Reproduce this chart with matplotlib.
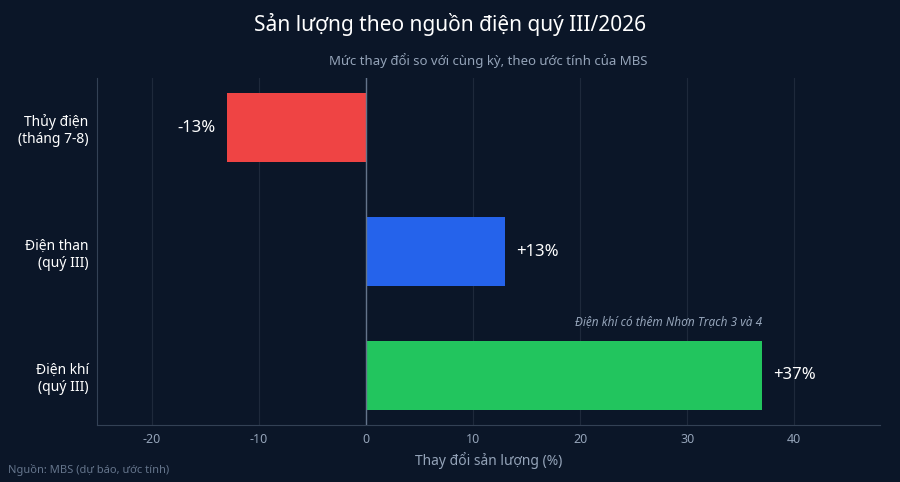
import matplotlib
matplotlib.use("Agg")
import matplotlib.pyplot as plt

plt.rcParams['font.family'] = ['Noto Sans', 'DejaVu Sans']

categories = ["Thủy điện\n(tháng 7-8)", "Điện than\n(quý III)", "Điện khí\n(quý III)"]
values = [-13, 13, 37]
labels = ["-13%", "+13%", "+37%"]
colors = ["#ef4444", "#2563eb", "#22c55e"]
xticks = [-20, -10, 0, 10, 20, 30, 40]

bg = "#0b1628"
fig = plt.figure(figsize=(9, 4.82), dpi=100, facecolor=bg)
ax = fig.add_axes([97/900, 1-425/482, (880-97)/900, (425-78)/482], facecolor=bg)

y = list(range(len(categories)))
ax.barh(y, values, height=0.55, color=colors, zorder=3)
for yi, v, lab in zip(y, values, labels):
    if v < 0:
        ax.text(v - 1, yi, lab, ha="right", va="center", color="white", fontsize=12, fontweight="bold")
    else:
        ax.text(v + 1, yi, lab, ha="left", va="center", color="white", fontsize=12, fontweight="bold")

ax.text(37, 2 - 0.385, "Điện khí có thêm Nhơn Trạch 3 và 4", ha="right", va="bottom",
        color="#94a3b8", fontsize=8.5, style="italic")

ax.set_xlim(-25.1, 48)
ax.set_ylim(2.4, -0.4)
ax.set_yticks(y)
ax.set_yticklabels(categories, color="white", fontsize=10)
ax.set_xticks(xticks)
ax.set_xticklabels([str(t) for t in xticks], color="#94a3b8", fontsize=9)
ax.tick_params(axis="both", length=0, pad=6)
ax.grid(axis="x", color="#1e293b", linewidth=0.8, zorder=0)
ax.axvline(0, color="#64748b", linewidth=1, zorder=4)
for s in ["top", "right"]:
    ax.spines[s].set_visible(False)
for s in ["left", "bottom"]:
    ax.spines[s].set_color("#334155")
ax.set_xlabel("Thay đổi sản lượng (%)", color="#94a3b8", fontsize=10, labelpad=4)

fig.text(0.5, 1-25/482, "Sản lượng theo nguồn điện quý III/2026", ha="center", va="center",
         color="white", fontsize=15, fontweight="bold")
fig.text(488/900, 1-61/482, "Mức thay đổi so với cùng kỳ, theo ước tính của MBS", ha="center",
         va="center", color="#94a3b8", fontsize=9.5)
fig.text(8/900, 1-470/482, "Nguồn: MBS (dự báo, ước tính)", ha="left", va="center",
         color="#64748b", fontsize=8)

fig.savefig("out.png", dpi=100, facecolor=bg)
